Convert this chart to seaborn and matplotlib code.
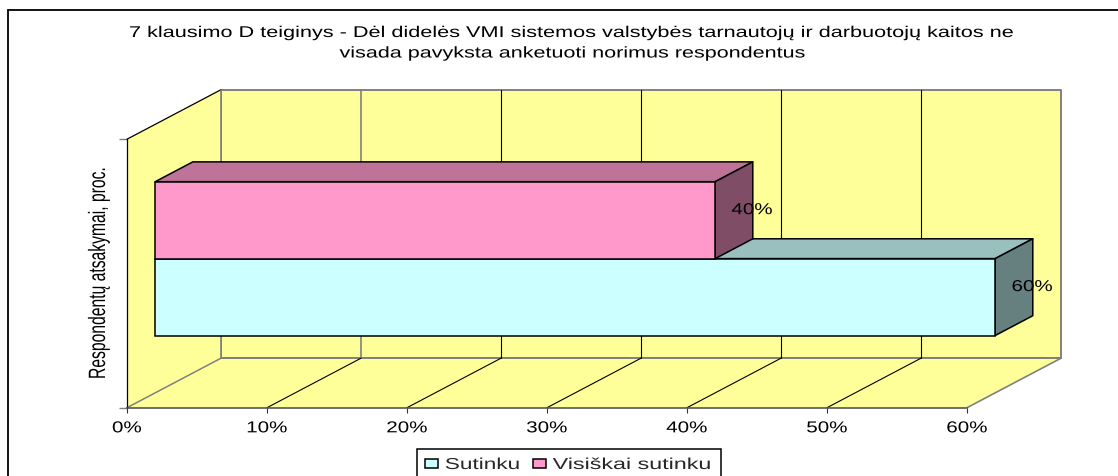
import matplotlib
matplotlib.use("Agg")
import matplotlib.pyplot as plt
import matplotlib.patheffects as pe
import pandas as pd
import seaborn as sns
from matplotlib.lines import Line2D
from matplotlib.patches import Polygon, Rectangle
from matplotlib.transforms import Affine2D, IdentityTransform

series = ["Sutinku", "Visiškai sutinku"]
values = [60, 40]
colors = ["#CCFFFF", "#FF99CC"]
top_colors = ["#99BFBF", "#BF7399"]
side_colors = ["#668080", "#804D66"]
category = ["Atsakymai", "Atsakymai"]
ticks = [0, 10, 20, 30, 40, 50, 60]
tick_labels = ["0%", "10%", "20%", "30%", "40%", "50%", "60%"]
title_lines = ["7 klausimo D teiginys - Dėl didelės VMI sistemos valstybės tarnautojų ir darbuotojų kaitos ne",
               "visada pavyksta anketuoti norimus respondentus"]
ylabel = "Respondentų atsakymai, proc."

W, H = 1118, 477
WALL = (94, 49.5)     # depth of the 3D box, px
FRONT, BACK = 0.30, 0.70   # where the bars sit inside that depth
YELLOW = "#FFFF99"
GRAY = "#808080"
FS = 11.4
TICK_STRETCH = 1.3    # the original text is drawn wide


class Stretch(pe.AbstractPathEffect):
    # draws a text scaled about a fixed display point
    def __init__(self, cx, cy, sx=1.0, sy=1.0):
        super().__init__()
        self.m = Affine2D().translate(-cx, -cy).scale(sx, sy).translate(cx, cy)

    def draw_path(self, renderer, gc, tpath, affine, rgbFace=None):
        renderer.draw_path(gc, tpath, affine + self.m, rgbFace)


sns.set_style("white")
plt.rcParams["font.family"] = ["Liberation Sans"]

fig = plt.figure(figsize=(W / 100, H / 100), dpi=100)
ax = fig.add_axes([127 / W, (H - 408.7) / H, 840 / W, 268.5 / H], facecolor="none")

df = pd.DataFrame({"cat": category, "pct": values, "series": series})
sns.barplot(data=df, x="pct", y="cat", hue="series", hue_order=series, palette=colors,
            orient="h", width=0.573, saturation=1, gap=0, dodge=True, legend=False,
            edgecolor="black", linewidth=1.1, ax=ax)
ax.set_xlim(ticks[0], ticks[-1])
ax.set_ylim(-0.5, 0.5)


def px(x, y, depth=0.0):
    p = ax.transData.transform((x, y))
    return (p[0] + WALL[0] * depth, p[1] + WALL[1] * depth)


def face(points, color, z, lw=1.0, ec="black"):
    ax.add_patch(Polygon(points, closed=True, facecolor=color, edgecolor=ec, linewidth=lw,
                         transform=IdentityTransform(), clip_on=False, zorder=z, joinstyle="round"))


def seg(a, b, color, lw, z=1):
    ax.add_line(Line2D([a[0], b[0]], [a[1], b[1]], color=color, linewidth=lw,
                       transform=IdentityTransform(), clip_on=False, zorder=z))


# walls and floor of the box
x0, x1 = ticks[0], ticks[-1]
y0, y1 = ax.get_ylim()
face([px(x0, y0, 1), px(x1, y0, 1), px(x1, y1, 1), px(x0, y1, 1)], YELLOW, 0.5, lw=1.4, ec=GRAY)
face([px(x0, y0), px(x0, y1), px(x0, y1, 1), px(x0, y0, 1)], YELLOW, 0.6, lw=0)
face([px(x0, y0), px(x1, y0), px(x1, y0, 1), px(x0, y0, 1)], YELLOW, 0.6, lw=0)
seg(px(x0, y1), px(x0, y1, 1), "black", 0.9)
seg(px(x1, y0), px(x1, y0, 1), GRAY, 1.2)
seg(px(x0, y0, 1), px(x1, y0, 1), GRAY, 1.4)
for t in ticks[:-1]:
    c, lw = (GRAY, 1.2) if t in ticks[:2] else ("black", 0.8)
    seg(px(t, y0, 1), px(t, y1, 1), c, lw)
    seg(px(t, y0), px(t, y0, 1), GRAY if t == 0 else "black", 1.1 if t == 0 else 0.8)

# bars: front faces come from seaborn, pushed back into the box, depth faces follow them
shift = Affine2D().translate(WALL[0] * FRONT, WALL[1] * FRONT)
bars = [c[0] for c in ax.containers]
value_texts = []
for i, bar in enumerate(bars):
    bar.set_transform(ax.transData + shift)
    bar.set_zorder(3 + i)
    bar.set_clip_on(False)
    xa, xb = bar.get_x(), bar.get_x() + bar.get_width()
    ya, yb = bar.get_y(), bar.get_y() + bar.get_height()
    face([px(xa, yb, FRONT), px(xb, yb, FRONT), px(xb, yb, BACK), px(xa, yb, BACK)], top_colors[i], 2 + i, lw=1.1)
    face([px(xb, ya, FRONT), px(xb, yb, FRONT), px(xb, yb, BACK), px(xb, ya, BACK)], side_colors[i], 2 + i, lw=1.1)
    value_texts.append(ax.annotate(f"{values[i]}%", xy=px(xb, (ya + yb) / 2, FRONT), xycoords=IdentityTransform(),
                                   xytext=(37 * 0.72, 10.5 * 0.72), textcoords="offset points", ha="center", va="center",
                                   fontsize=FS, color="black", zorder=8, annotation_clip=False))

# axes
sns.despine(ax=ax)
ax.spines["left"].set_color("black")
ax.spines["left"].set_linewidth(0.9)
ax.spines["bottom"].set_color("#555555")
ax.spines["bottom"].set_linewidth(1.2)
ax.set_xticks(ticks)
ax.set_xticklabels(tick_labels, fontsize=FS, color="black")
ax.set_yticks([y0, y1])
ax.set_yticklabels([])
ax.tick_params(axis="x", bottom=True, length=3.6, width=0.8, color="#333333", pad=5.5)
ax.tick_params(axis="y", left=True, length=5.5, width=1.0, color=GRAY)
ax.set_xlabel("")
ax.set_ylabel("")
ylab = fig.text(99 / W, (H - 274) / H, ylabel, rotation=90, ha="center", va="center",
                fontsize=17, color="black")

t1 = fig.text(570 / W, (H - 33.5) / H, title_lines[0], ha="center", va="center", fontsize=11.2, color="black")
t2 = fig.text(572 / W, (H - 54) / H, title_lines[1], ha="center", va="center", fontsize=11.2, color="black")

# outer frame, cut by the image edge on the right and bottom
fig.add_artist(Rectangle((7.5 / W, -0.1), 1.2, (H - 11) / H + 0.1, transform=fig.transFigure,
                         fill=False, edgecolor="black", linewidth=1.3))

# legend box is cut by the image edge too
fig.add_artist(Rectangle((417 / W, -0.1), 304 / W, (H - 450) / H + 0.1, transform=fig.transFigure,
                         facecolor="white", edgecolor="black", linewidth=1.1))
leg = fig.legend(bars, series, loc="upper left", bbox_to_anchor=(425 / W, (H - 458) / H),
                 ncol=2, fontsize=FS, frameon=False, handlelength=0.8, handleheight=0.55,
                 handletextpad=0.45, columnspacing=2.2, borderpad=0, borderaxespad=0)

# widen or narrow the texts to the lengths in the original
fig.canvas.draw()
r = fig.canvas.get_renderer()


def fit(text, length=None, factor=None, vertical=False, anchor="center"):
    bb = text.get_window_extent(r)
    size = bb.height if vertical else bb.width
    s = factor if factor else length / size
    cx = bb.x0 if anchor == "left" else (bb.x0 + bb.x1) / 2
    cy = (bb.y0 + bb.y1) / 2
    kw = {"sy": s} if vertical else {"sx": s}
    text.set_path_effects([Stretch(cx, cy, **kw)])


fit(t1, 882)
fit(t2, 465)
fit(ylab, 212, vertical=True)
for lab in ax.get_xticklabels():
    fit(lab, factor=TICK_STRETCH)
for vt in value_texts:
    fit(vt, factor=TICK_STRETCH)
for lt, n in zip(leg.get_texts(), [76, 160]):
    fit(lt, n, anchor="left")

fig.savefig("out.png", dpi=100)
